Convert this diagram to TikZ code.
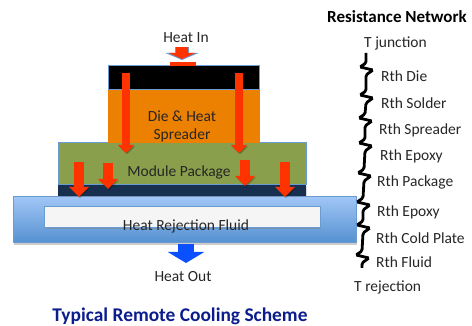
\documentclass[tikz,border=0pt]{standalone}
\usepackage{fontspec}
\setmainfont{Carlito}
\usepackage{xcolor}
\usepackage{tikz}
\usetikzlibrary{positioning,calc,shadows,arrows.meta}
\definecolor{dieorange}{HTML}{EC8000}
\definecolor{pkggreen}{HTML}{8A9F4B}
\definecolor{pkgnavy}{HTML}{17304F}
\definecolor{edgeblue}{HTML}{6C9BD2}
\definecolor{platetop}{HTML}{A0C6F6}
\definecolor{platebot}{HTML}{5590D0}
\definecolor{heatred}{HTML}{FF3300}
\definecolor{outblue}{HTML}{0A50FF}
\definecolor{titleblue}{HTML}{0B1D8C}
\tikzset{
  layer/.style    = {shape=rectangle, outer sep=0pt, inner sep=0pt, anchor=north west},
  label/.style    = {font=\fontsize{15.5}{18}\selectfont, align=center, text=black!85, inner sep=0pt, yshift=-1pt},
  rth/.style      = {label, anchor=west},
  plate/.style    = {layer, draw=edgeblue, line width=1pt,
                     top color=platetop, bottom color=platebot,
                     drop shadow={opacity=.4, shadow xshift=1pt, shadow yshift=-2pt}},
  heat/.style     = {draw=heatred, line width=8pt,
                     -{Triangle[width=16pt,length=8pt]},
                     preaction={draw=black, opacity=.2, transform canvas={shift={(1pt,-1.5pt)}}}},
  heatbig/.style  = {heat, line width=10pt, -{Triangle[width=19pt,length=10pt]}},
  wire/.style     = {draw=black, line width=2.8pt, rounded corners=1.5pt}
}
\newcommand{\zig}[1]{-- ($(#1)+(0,-4)$) -- ($(#1)+(-6,0)$) -- ($(#1)+(7,3)$) -- ($(#1)+(0,8)$)}

\begin{document}
\begin{tikzpicture}[x=1pt,y=-1pt]
  \useasboundingbox (0,0) rectangle (472,326);

  % stack of layers
  \node [plate, minimum width=343pt, minimum height=46pt] (plate) at (13,197) {};
  \node [layer, draw=edgeblue, line width=1pt, fill=black!4, minimum width=276pt, minimum height=21pt,
         drop shadow={opacity=.4, shadow xshift=1pt, shadow yshift=-1.5pt}] (fluid) at (44,207) {};
  \node [layer, fill=pkgnavy, minimum width=248pt, minimum height=11pt,
         drop shadow={opacity=.3, shadow xshift=1pt, shadow yshift=-1pt}] (navy) at (58,185) {};
  \node [layer, fill=pkggreen, draw=edgeblue, line width=1pt, anchor=south west,
         minimum width=248pt, minimum height=42pt, above=0pt of navy] (module) {};
  \node [layer, fill=dieorange, anchor=south, minimum width=152pt, minimum height=53pt] (spreader)
         at ($(module.north)+(1.5,0)$) {};
  \node [layer, fill=black, draw=edgeblue, line width=1pt, anchor=south,
         minimum width=151pt, minimum height=24pt, above=0pt of spreader] (cap) {};
  \node [layer, fill=heatred, minimum width=26pt, minimum height=4pt] (hotspot) at (170,62) {};

  % labels
  \node [label] (heatin) at (186,37) {Heat In};
  \node [label] (dielabel) at (182,125) {Die \& Heat\\Spreader};
  \node [label] (modlabel) at (179,171) {Module Package};
  \node [label] (fluidlabel) at (186,225) {Heat Rejection Fluid};
  \node [label] (heatout) at (183,276) {Heat Out};
  \node [font=\fontsize{19.4}{22}\selectfont\bfseries, text=titleblue, inner sep=0pt] (title) at (180,316)
        {Typical Remote Cooling Scheme};

  % heat arrows
  \coordinate (intop) at (182,47);
  \coordinate (inend) at (182,60);
  \draw [draw=edgeblue, line width=14pt, -{Triangle[width=33pt,length=7pt]}] (intop) -- (inend);
  \draw [draw=heatred, line width=12pt, -{Triangle[width=26pt,length=6pt]}] (intop) -- ($(inend)+(0,-1)$);
  \foreach \n/\x/\ya/\yb in {a/126/73/153, b/239/73/153}
    \draw [heat] (\x,\ya) coordinate (s\n) -- (\x,\yb) coordinate (e\n);
  \foreach \n/\x/\ya/\yb in {c/79/162/197, d/108/163/189, e/245/160/186, f/285/162/197}
    \draw [heatbig] (\x,\ya) coordinate (s\n) -- (\x,\yb) coordinate (e\n);
  \coordinate (outtop) at (186,244);
  \coordinate (outend) at (186,263);
  \draw [draw=outblue, line width=16pt, -{Triangle[width=36pt,length=11pt]}] (outtop) -- (outend);

  % resistance network
  \node [font=\fontsize{17}{20}\selectfont\bfseries, inner sep=0pt, anchor=west] (nettitle) at (327,17) {Resistance Network};
  \node [rth] (tjunc) at (364,42) {T junction};
  \node [rth] (trej) at (354,286) {T rejection};
  \foreach \n/\x/\y/\lx/\ly/\txt in {1/366/67/381/75/Rth Die, 2/366/95/381/102/Rth Solder,
      3/365/118/379/129/Rth Spreader, 4/365/143/380/155/Rth Epoxy, 5/364/173/377/181/Rth Package,
      6/363/202/377/211/Rth Epoxy, 7/363/225/376/237/Rth Cold Plate, 8/362/255/376/261/Rth Fluid} {
    \coordinate (r\n) at (\x,\y);
    \node [rth] (rth\n) at (\lx,\ly) {\txt};
  }
  \coordinate (wiretop) at (366,53);
  \coordinate (wirebot) at (362,268);
  \draw [wire] (wiretop) \zig{r1} \zig{r2} \zig{r3} \zig{r4} \zig{r5} \zig{r6} \zig{r7} \zig{r8} -- (wirebot);
\end{tikzpicture}
\end{document}
